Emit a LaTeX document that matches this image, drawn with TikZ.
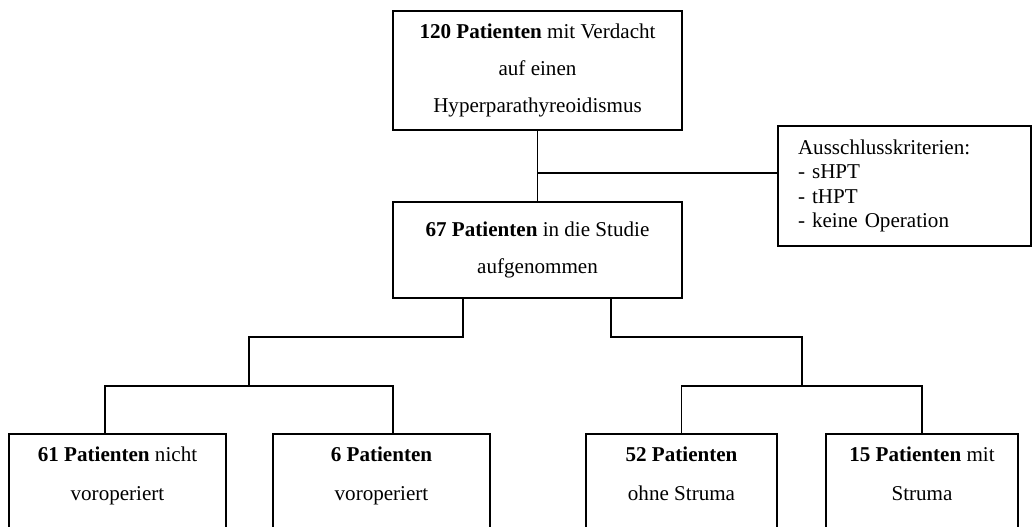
\documentclass[tikz,border=0pt]{standalone}
\usepackage{fontspec}
\setmainfont{Liberation Serif}
\usepackage{tikz}

\begin{document}
\begin{tikzpicture}[auto=center,every node/.style={rectangle,draw,line width=0.9pt,align=center}]

\tikzstyle{pbox}=[minimum width=5.78cm,font=\fontsize{12}{21}\selectfont];
\tikzstyle{crit}=[align=left,text width=4.26cm,inner xsep=0.4cm,minimum height=2.4cm,font=\fontsize{12}{13.8}\selectfont];
\tikzstyle{group}=[anchor=north,text height=34.5pt,text depth=60pt,font=\fontsize{12}{22}\selectfont];
\tikzstyle{link}=[line width=0.9pt];

\useasboundingbox (0,0) rectangle (20.64,10.54);
\clip (0,0) rectangle (20.64,10.54);

\node[pbox,minimum height=2.38cm] (n120) at (10.75,9.13) {\textbf{120 Patienten} mit Verdacht\\auf einen\\Hyperparathyreoidismus};
\node[pbox,minimum height=1.92cm] (n67) at (10.75,5.54) {\textbf{67 Patienten} in die Studie\\aufgenommen};
\node[crit] (aus) at (18.09,6.82) {Ausschlusskriterien:\\- sHPT\\- tHPT\\- keine Operation};

\node[group,minimum width=4.34cm] (n61) at (2.35,1.88) {\textbf{61 Patienten} nicht\\voroperiert};
\node[group,minimum width=4.34cm] (n6) at (7.63,1.88) {\textbf{6 Patienten}\\voroperiert};
\node[group,minimum width=3.82cm] (n52) at (13.63,1.88) {\textbf{52 Patienten}\\ohne Struma};
\node[group,minimum width=3.84cm] (n15) at (18.44,1.88) {\textbf{15 Patienten} mit\\Struma};

\coordinate (excl) at (10.75,7.08);
\coordinate (lj) at (4.98,3.8);
\coordinate (lb) at (4.98,2.82);
\coordinate (rj) at (16.04,3.8);
\coordinate (rb) at (16.04,2.82);

\draw[link] (n120) -- (n67);
\draw[link] (excl) -- (excl -| aus.west);
\draw[link] ([xshift=-1.49cm]n67.south) |- (lj) -- (lb);
\draw[link] ([xshift=1.47cm]n67.south) |- (rj) -- (rb);
\draw[link] ([xshift=-0.25cm]n61.north) |- (lb) -| ([xshift=0.23cm]n6.north);
\draw[link] (n52.north) |- (rb) -| (n15.north);

\end{tikzpicture}
\end{document}
